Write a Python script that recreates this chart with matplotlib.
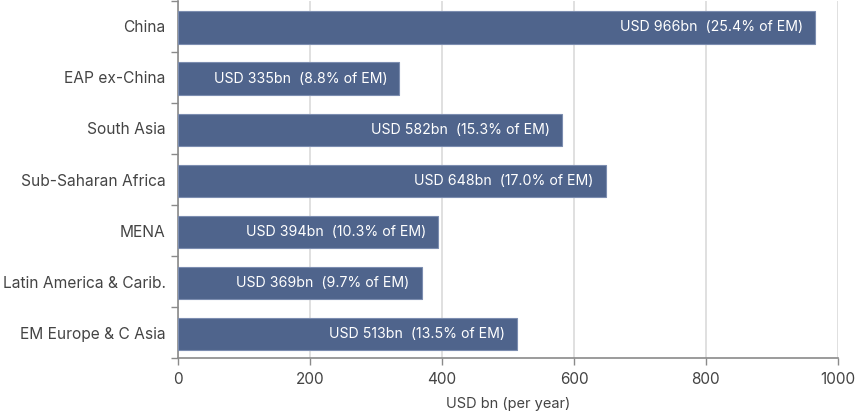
import matplotlib
matplotlib.use("Agg")
import matplotlib.pyplot as plt
import numpy as np

plt.rcParams["font.family"] = ["Inter", "DejaVu Sans"]

regions = ["China", "EAP ex-China", "South Asia", "Sub-Saharan Africa",
           "MENA", "Latin America & Carib.", "EM Europe & C Asia"]
values = [966, 335, 582, 648, 394, 369, 513]
shares = [25.4, 8.8, 15.3, 17.0, 10.3, 9.7, 13.5]

bar_col = "#4f648c"
axis_col = "#8a8a8a"
text_col = "#444444"

fig = plt.figure(figsize=(8.55, 4.13), dpi=100)
ax = fig.add_axes([0.2082, 0.132, 0.7718, 0.8665])

y = np.arange(len(regions))
ax.barh(y + 0.025, values, height=0.63, color=bar_col, edgecolor="#7c8db0", linewidth=0.8, zorder=3)

# value labels inside the bars
for yi, v, s in zip(y, values, shares):
    ax.text(v - 18, yi + 0.025, "USD %dbn  (%.1f%% of EM)" % (v, s), color="white",
            ha="right", va="center", fontsize=10.2, zorder=4)

ax.set_ylim(len(regions) - 0.5, -0.5)
ax.set_xlim(0, 1000)
ax.set_xticks([0, 200, 400, 600, 800, 1000])
ax.set_yticks(y)
ax.set_yticklabels(regions)
ax.set_yticks(np.arange(-0.5, len(regions), 1), minor=True)
ax.tick_params(axis="y", which="major", length=0, pad=9, labelsize=11.2, labelcolor=text_col)
ax.tick_params(axis="y", which="minor", length=5, color=axis_col, width=1)
ax.tick_params(axis="x", length=5, color=axis_col, width=1, labelsize=11, labelcolor=text_col, pad=5)

ax.grid(axis="x", color="#dddddd", linewidth=1.3, zorder=0)
for side in ["top", "right"]:
    ax.spines[side].set_visible(False)
for side in ["left", "bottom"]:
    ax.spines[side].set_color(axis_col)
    ax.spines[side].set_linewidth(1.2)

ax.set_xlabel("USD bn (per year)", fontsize=10.5, color=text_col, labelpad=7)

fig.savefig("out.png", dpi=100)
